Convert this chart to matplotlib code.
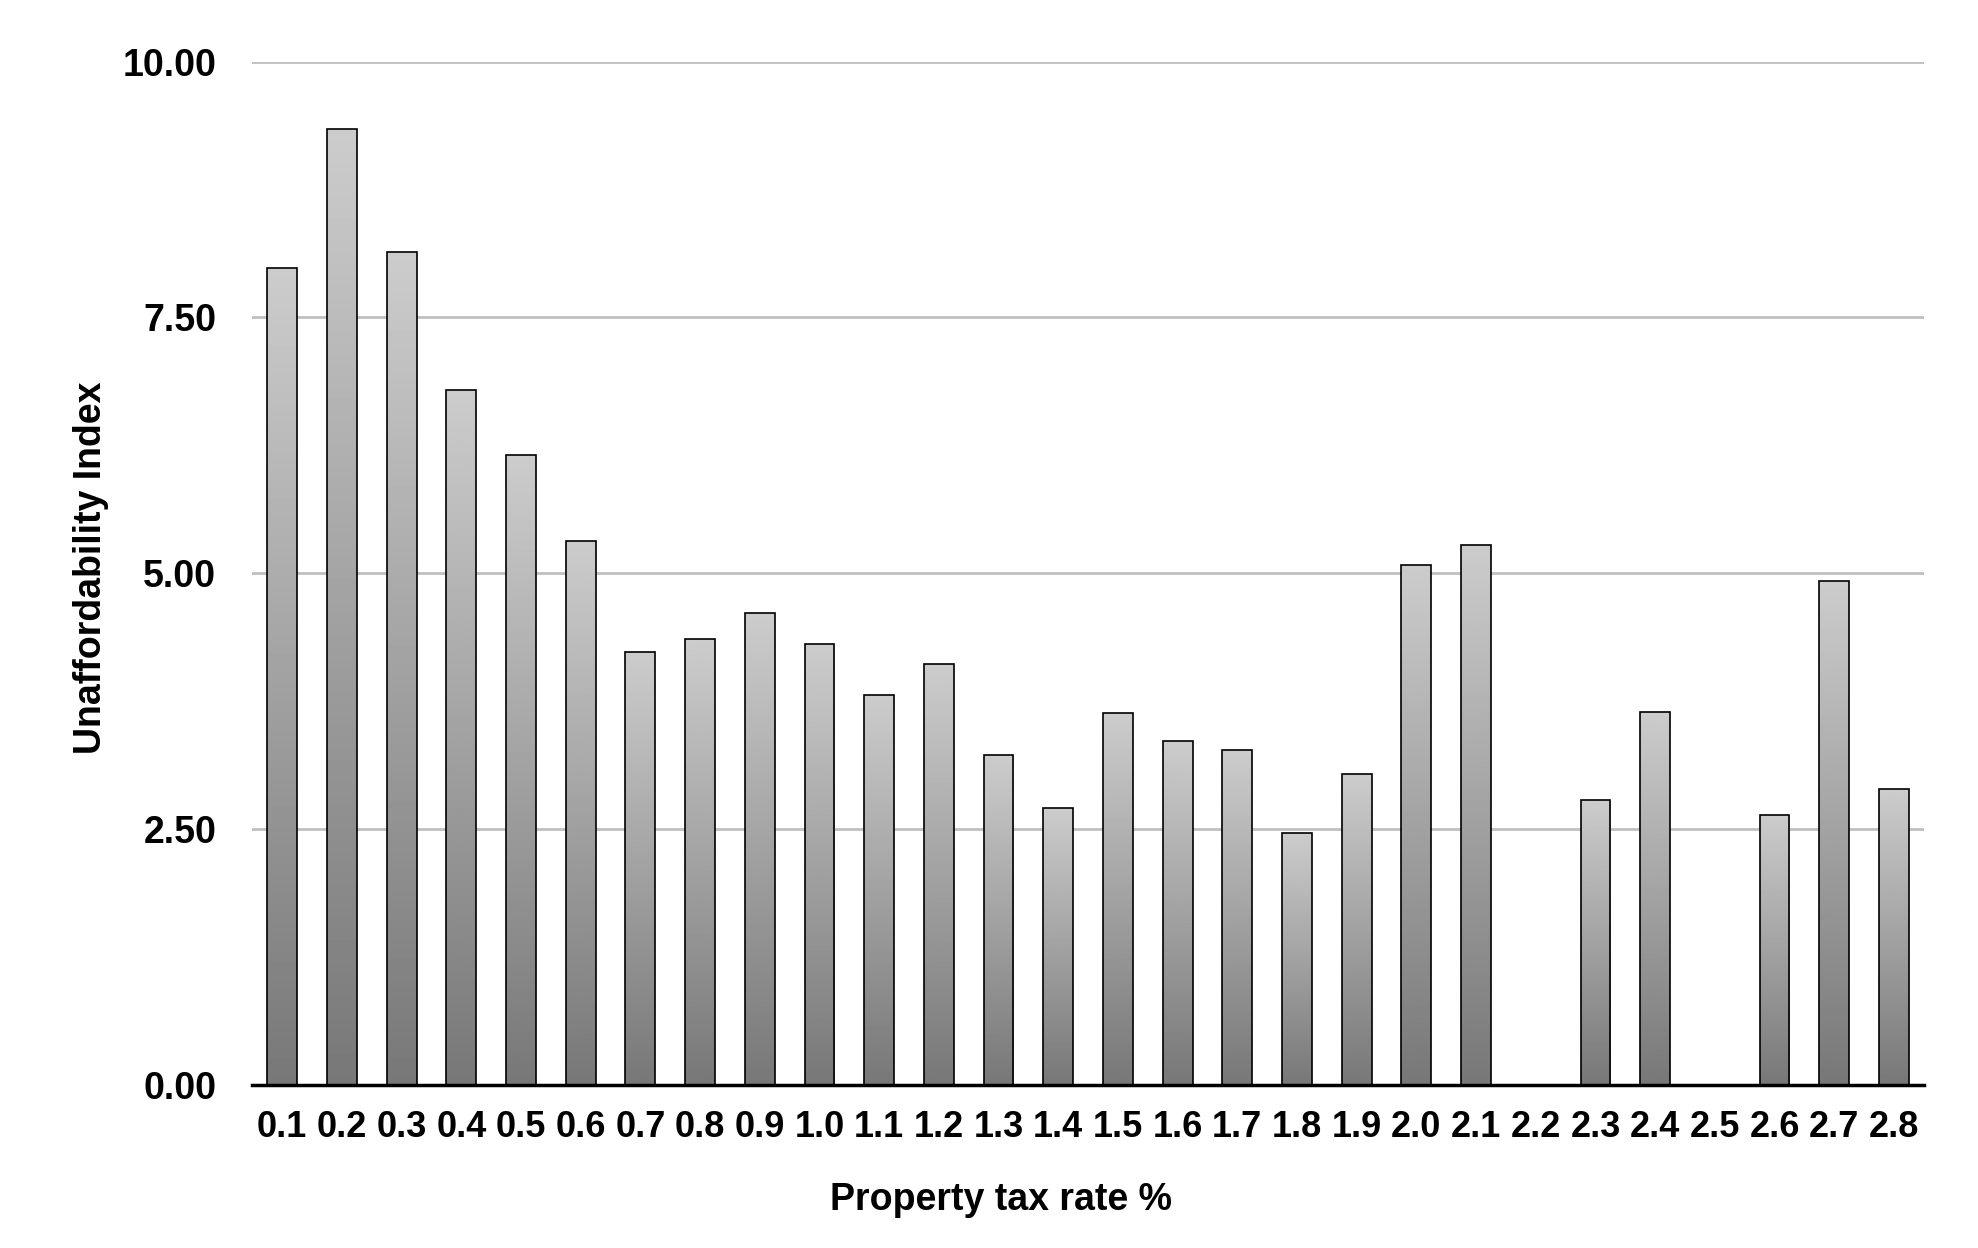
import matplotlib
matplotlib.use("Agg")
import matplotlib.pyplot as plt
import numpy as np

categories = ["0.1","0.2","0.3","0.4","0.5","0.6","0.7","0.8","0.9","1.0",
              "1.1","1.2","1.3","1.4","1.5","1.6","1.7","1.8","1.9","2.0",
              "2.1","2.2","2.3","2.4","2.5","2.6","2.7","2.8"]
values = [7.98, 9.34, 8.14, 6.79, 6.16, 5.31, 4.23, 4.36, 4.61, 4.31,
          3.81, 4.11, 3.22, 2.70, 3.63, 3.36, 3.27, 2.46, 3.04, 5.08,
          5.28, 0.0, 2.78, 3.64, 0.0, 2.64, 4.92, 2.89]
yticks = [0.0, 2.5, 5.0, 7.5, 10.0]
xlabel = "Property tax rate %"
ylabel = "Unaffordability Index"

fam = ["Liberation Sans", "DejaVu Sans"]

fig = plt.figure(figsize=(19.78, 12.48), dpi=100)
ax = fig.add_axes([0.1276, 0.131, 0.845, 0.8195])

x = np.arange(len(categories))
bars = ax.bar(x, values, width=0.5, color="none", edgecolor="black", linewidth=1.2, zorder=3)

grad = np.linspace(0.80, 0.47, 256).reshape(-1, 1)
for b, v in zip(bars, values):
    if v <= 0:
        continue
    x0 = b.get_x(); w = b.get_width()
    im = ax.imshow(grad, cmap="gray", vmin=0, vmax=1, aspect="auto",
                   extent=(x0, x0 + w, 0, v), origin="upper", zorder=2,
                   interpolation="bilinear")
    im.set_clip_path(b)

ax.set_xlim(-0.5, len(categories) - 0.5)
ax.set_ylim(0, 10)
ax.set_yticks(yticks)
ax.set_yticklabels([f"{t:.2f}" for t in yticks])
ax.set_xticks(x)
ax.set_xticklabels(categories)
ax.grid(axis="y", color="#c0c0c0", linewidth=2, zorder=0)
ax.set_axisbelow(True)
for s in ["top", "right", "left"]:
    ax.spines[s].set_visible(False)
ax.spines["bottom"].set_linewidth(2.5)
ax.spines["bottom"].set_zorder(4)
ax.tick_params(axis="both", length=0)
ax.tick_params(axis="x", pad=18)
ax.tick_params(axis="y", pad=26)
for lab in ax.get_xticklabels():
    lab.set_fontfamily(fam); lab.set_fontweight("bold"); lab.set_fontsize(26)
for lab in ax.get_yticklabels():
    lab.set_fontfamily(fam); lab.set_fontweight("bold"); lab.set_fontsize(27)

ax.set_xlabel(xlabel, family=fam, fontweight="bold", fontsize=27)
ax.xaxis.set_label_coords(0.448, -0.095)
ax.set_ylabel(ylabel, family=fam, fontweight="bold", fontsize=27)
ax.yaxis.set_label_coords(-0.086, 0.505)

fig.savefig("out.png", dpi=100)
